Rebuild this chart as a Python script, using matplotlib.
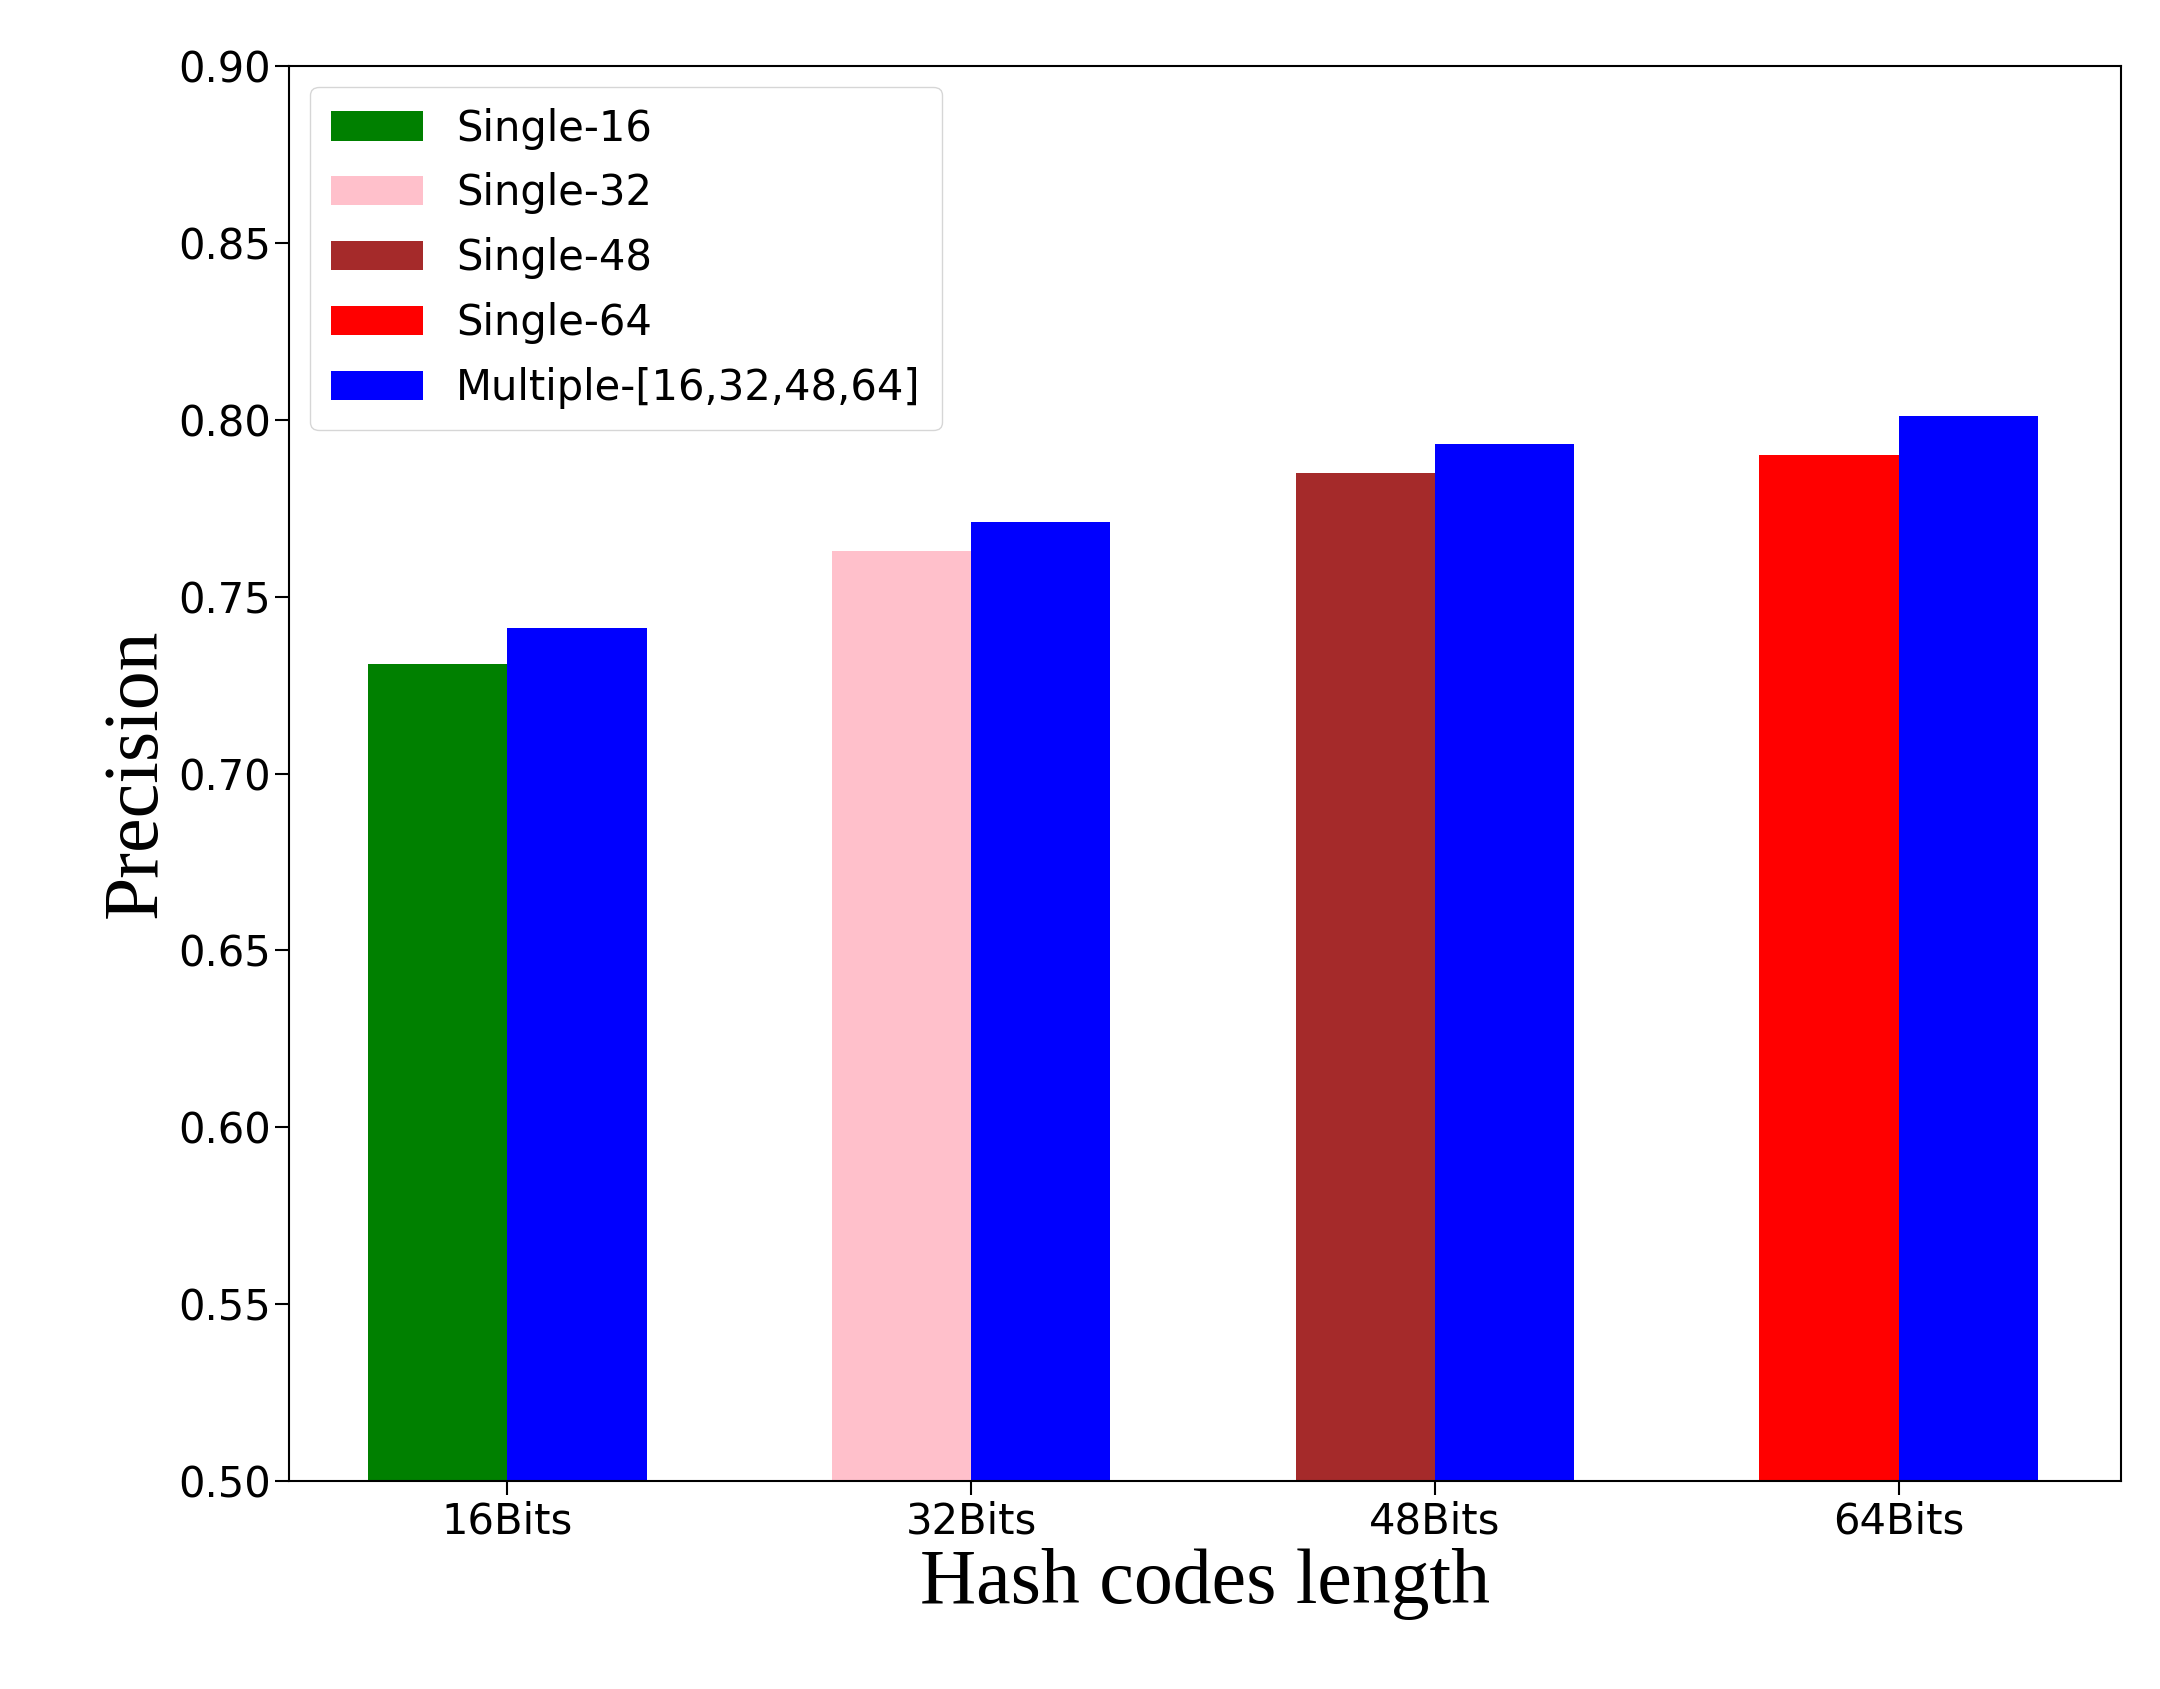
import matplotlib
matplotlib.use("Agg")
import matplotlib.pyplot as plt
import numpy as np

categories = ["16Bits", "32Bits", "48Bits", "64Bits"]
single_vals = [0.731, 0.763, 0.785, 0.790]
multi_vals = [0.741, 0.771, 0.793, 0.801]
single_colors = ["green", "pink", "brown", "red"]
single_labels = ["Single-16", "Single-32", "Single-48", "Single-64"]

fig = plt.figure(figsize=(21.6, 16.89), dpi=100)
ax = fig.add_axes([0.134, 0.123, 0.848, 0.838])
x = np.arange(len(categories))
w = 0.3
for i in range(len(categories)):
    ax.bar(x[i] - w / 2, single_vals[i], w, color=single_colors[i], label=single_labels[i])
ax.bar(x + w / 2, multi_vals, w, color="blue", label="Multiple-[16,32,48,64]")
ax.set_ylim(0.5, 0.9)
ax.set_xlim(-0.47, 3.48)
ax.set_yticks(np.arange(0.5, 0.901, 0.05))
ax.set_yticklabels([f"{v:.2f}" for v in np.arange(0.5, 0.901, 0.05)])
ax.set_xticks(x)
ax.set_xticklabels(categories)
ax.tick_params(labelsize=30, length=10, width=1.5)
for s in ax.spines.values():
    s.set_linewidth(1.5)
ax.set_xlabel("Hash codes length", fontsize=56, family="Liberation Serif")
ax.set_ylabel("Precision", fontsize=56, family="Liberation Serif")
ax.legend(loc="upper left", fontsize=30, handlelength=2.2, handleheight=0.7, borderpad=0.5, labelspacing=0.55)
fig.savefig("out.png", dpi=100)
